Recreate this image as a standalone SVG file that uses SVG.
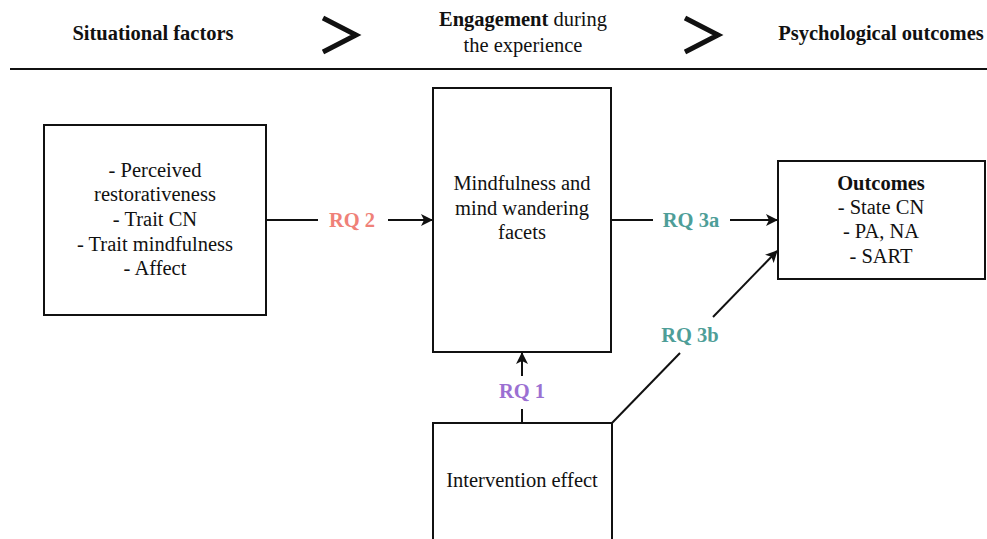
<svg xmlns="http://www.w3.org/2000/svg" width="987" height="539" viewBox="0 0 987 539" font-family="Liberation Serif, Times New Roman, serif">
<defs>
<style>
text{font-size:20.5px;fill:#111;text-anchor:middle}
.b{font-weight:bold}
.box{fill:#fff;stroke:#111;stroke-width:2}
.ln{stroke:#111;stroke-width:2;fill:none}
.rq{font-weight:bold;font-size:20.5px}
</style>
<marker id="ah" viewBox="0 0 12 12" refX="11" refY="6" markerWidth="12" markerHeight="12" markerUnits="userSpaceOnUse" orient="auto">
<path d="M0,0 L12,6 L0,12 L3,6 Z" fill="#111"/>
</marker>
</defs>
<rect width="987" height="539" fill="#fff"/>
<g id="header">
<text class="b" x="153" y="40">Situational factors</text>
<path d="M323,18 L356,35 L323,52" fill="none" stroke="#111" stroke-width="5"/>
<text x="523" y="26"><tspan class="b">Engagement</tspan> during</text>
<text x="523" y="52">the experience</text>
<path d="M685,18 L718,35 L685,52" fill="none" stroke="#111" stroke-width="5"/>
<text class="b" x="881" y="40">Psychological outcomes</text>
<line x1="10" y1="69" x2="987" y2="69" stroke="#111" stroke-width="2"/>
</g>
<g id="connectors">
<line class="ln" x1="266" y1="220" x2="318" y2="220"/>
<line class="ln" x1="388" y1="220" x2="432" y2="220" marker-end="url(#ah)"/>
<text class="rq" x="352" y="227" style="fill:#EF8178">RQ 2</text>
<line class="ln" x1="611" y1="220" x2="653" y2="220"/>
<line class="ln" x1="730" y1="220" x2="777" y2="220" marker-end="url(#ah)"/>
<text class="rq" x="691" y="227" style="fill:#4E9E98">RQ 3a</text>
<line class="ln" x1="612" y1="423" x2="680" y2="353"/>
<line class="ln" x1="713" y1="317" x2="777" y2="251" marker-end="url(#ah)"/>
<text class="rq" x="690" y="342" style="fill:#4E9E98">RQ 3b</text>
<line class="ln" x1="522" y1="423" x2="522" y2="409"/>
<line class="ln" x1="522" y1="376" x2="522" y2="353" marker-end="url(#ah)"/>
<text class="rq" x="522" y="398" style="fill:#9B70D2">RQ 1</text>
</g>
<g id="situational">
<rect class="box" x="44" y="125" width="222" height="190"/>
<text x="155" y="177">- Perceived</text>
<text x="155" y="201">restorativeness</text>
<text x="155" y="226">- Trait CN</text>
<text x="155" y="251">- Trait mindfulness</text>
<text x="155" y="275">- Affect</text>
</g>
<g id="mindfulness">
<rect class="box" x="433" y="88" width="178" height="264"/>
<text x="522" y="190">Mindfulness and</text>
<text x="522" y="215">mind wandering</text>
<text x="522" y="239">facets</text>
</g>
<g id="outcomes">
<rect class="box" x="778" y="161" width="207" height="118"/>
<text class="b" x="881" y="190">Outcomes</text>
<text x="881" y="214">- State CN</text>
<text x="881" y="238">- PA, NA</text>
<text x="881" y="263">- SART</text>
</g>
<g id="intervention">
<rect class="box" x="433" y="423" width="179" height="130"/>
<text x="522" y="487">Intervention effect</text>
</g>
</svg>
